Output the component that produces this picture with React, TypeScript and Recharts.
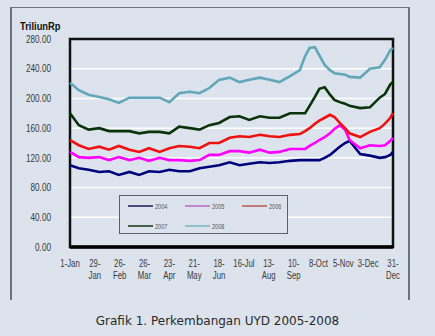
import React from "react";
import {
  LineChart,
  Line,
  XAxis,
  YAxis,
  CartesianGrid,
  ReferenceArea,
  ReferenceLine,
} from "recharts";

// day of year for each sample
const days = [
  0, 10, 21, 33, 44, 55, 67, 78, 89, 101, 112, 123, 135, 146, 157, 168, 180,
  191, 202, 214, 225, 236, 248, 259, 265, 270, 276, 281, 287, 293, 298, 304,
  310, 315, 327, 338, 349, 355, 361, 364,
];

const y2004 = [
  110, 106, 104, 101, 102, 97, 101, 97, 102, 101, 104, 102, 102, 106, 108, 110,
  114, 110, 112, 114, 113, 114, 116, 117, 117, 117, 117, 117, 120, 124, 129,
  135, 140, 143, 125, 123, 120, 121, 124, 128,
];
const y2005 = [
  128, 121, 120, 121, 117, 121, 117, 120, 116, 120, 117, 117, 116, 117, 124, 124,
  129, 129, 127, 131, 127, 128, 132, 132, 132, 136, 140, 144, 148, 153, 159,
  164, 158, 144, 133, 137, 136, 137, 143, 147,
];
const y2006 = [
  144, 137, 132, 135, 131, 136, 131, 128, 133, 128, 133, 136, 135, 133, 140, 140,
  147, 149, 148, 151, 149, 148, 151, 152, 156, 160, 166, 170, 174, 178, 175,
  167, 160, 153, 148, 155, 160, 166, 174, 180,
];
const y2007 = [
  180, 164, 158, 160, 156, 156, 156, 153, 155, 155, 153, 162, 160, 158, 164, 167,
  175, 176, 171, 176, 174, 174, 180, 180, 180, 190, 202, 213, 215, 205, 198,
  195, 193, 190, 187, 188, 201, 206, 219, 222,
];
const y2008 = [
  221, 211, 205, 202, 199, 194, 201, 201, 201, 201, 195, 207, 209, 207, 214, 225,
  228, 222, 225, 228, 225, 222, 230, 238, 257, 268, 269, 258, 245, 238, 234,
  233, 232, 229, 228, 240, 242, 252, 265, 268,
];

const tickDays = [0, 28, 56, 84, 112, 140, 168, 196, 224, 252, 280, 308, 336, 364];
const tickLabels = [
  "1-Jan", "29-\nJan", "26-\nFeb", "26-\nMar", "23-\nApr", "21-\nMay", "18-\nJun",
  "16-Jul", "13-\nAug", "10-\nSep", "8-Oct", "5-Nov", "3-Dec", "31-\nDec",
];
const yTicks = [0, 40, 80, 120, 160, 200, 240, 280];

const series = [
  { key: "s2004", name: "2004", color: "#00007a", legend: "#4a4c7c" },
  { key: "s2005", name: "2005", color: "#ff00ff", legend: "#c486c8" },
  { key: "s2006", name: "2006", color: "#f01010", legend: "#c47a7a" },
  { key: "s2007", name: "2007", color: "#0a330a", legend: "#465e4a" },
  { key: "s2008", name: "2008", color: "#62a7b8", legend: "#8cc4c8" },
];

const data = days.map((d, i) => ({
  day: d,
  s2004: y2004[i],
  s2005: y2005[i],
  s2006: y2006[i],
  s2007: y2007[i],
  s2008: y2008[i],
}));

const BG = "#dce3ed";
const FONT = "'Liberation Sans', Arial, sans-serif";
const SQUEEZE = 0.78; // labels in the original use a narrow face

function XTick(props: any) {
  const { x, y, payload } = props;
  const idx = tickDays.indexOf(payload.value);
  const lines = (tickLabels[idx] || "").split("\n");
  return (
    <g transform={`translate(${x} ${y}) scale(${SQUEEZE} 1)`}>
      <text x={0} y={0} textAnchor="middle" fill="#3a3a3a" fontSize={10} fontFamily={FONT}>
        {lines.map((l, i) => (
          <tspan key={i} x={0} dy={i === 0 ? 14 : 12}>
            {l}
          </tspan>
        ))}
      </text>
    </g>
  );
}

function YTick(props: any) {
  const { x, y, payload } = props;
  return (
    <g transform={`translate(${x} ${y}) scale(${SQUEEZE} 1)`}>
      <text x={0} y={0} dy="0.35em" textAnchor="end" fill="#3a3a3a" fontSize={10.5} fontFamily={FONT}>
        {Number(payload.value).toFixed(2)}
      </text>
    </g>
  );
}

export default function App() {
  return (
    <div
      style={{
        position: "absolute",
        left: 0,
        top: 0,
        width: 435,
        height: 336,
        background: BG,
        overflow: "hidden",
      }}
    >
      {/* outer frame */}
      <div
        style={{
          position: "absolute",
          left: 10,
          top: 7,
          width: 396,
          height: 292,
          borderTop: "1px solid #6a7480",
          borderLeft: "2px solid #6a7480",
          borderRight: "2px solid #6a7480",
        }}
      />
      <div
        style={{
          position: "absolute",
          left: 20,
          top: 20,
          fontFamily: FONT,
          fontWeight: "bold",
          fontSize: 11,
          color: "#111",
          transform: "scaleX(0.85)",
          transformOrigin: "left top",
        }}
      >
        TriliunRp
      </div>

      <div style={{ position: "absolute", left: 0, top: 0 }}>
        <LineChart
          width={435}
          height={336}
          data={data}
          margin={{ top: 39, right: 42, bottom: 59, left: 0 }}
        >
          <CartesianGrid vertical={false} stroke="#ffffff" strokeWidth={1.5} />
          <XAxis
            dataKey="day"
            type="number"
            domain={[0, 364]}
            ticks={tickDays}
            tick={<XTick />}
            tickLine={false}
            axisLine={false}
            interval={0}
            height={30}
            tickMargin={0}
          />
          <YAxis
            domain={[0, 280]}
            ticks={yTicks}
            tick={<YTick />}
            tickLine={false}
            axisLine={false}
            width={70}
            tickMargin={13}
          />
          {series.map((s) => (
            <Line
              key={s.key}
              type="linear"
              dataKey={s.key}
              name={s.name}
              stroke={s.color}
              strokeWidth={2.6}
              dot={false}
              isAnimationActive={false}
            />
          ))}
          <ReferenceArea
            x1={0}
            x2={364}
            y1={0}
            y2={280}
            fill="none"
            stroke="#111"
            strokeWidth={2.5}
            ifOverflow="visible"
          />
          <ReferenceLine y={0} stroke="#000" strokeWidth={3.5} ifOverflow="visible" />
        </LineChart>
      </div>

      {/* legend */}
      <div
        style={{
          position: "absolute",
          left: 119,
          top: 195,
          width: 167,
          height: 37,
          border: "1.5px solid #5a6068",
          background: BG,
        }}
      >
        {series.map((s, i) => {
          const col = i % 3;
          const row = Math.floor(i / 3);
          return (
            <div
              key={s.key}
              style={{
                position: "absolute",
                left: 8 + col * 57,
                top: 5 + row * 20,
                display: "flex",
                alignItems: "center",
                height: 10,
              }}
            >
              <div style={{ width: 25, height: 2, background: s.legend }} />
              <span
                style={{
                  marginLeft: 2,
                  fontSize: 7,
                  fontFamily: FONT,
                  color: "#555",
                  display: "inline-block",
                  transform: "scaleX(0.8)",
                  transformOrigin: "left center",
                }}
              >
                {s.name}
              </span>
            </div>
          );
        })}
      </div>

      <div
        style={{
          position: "absolute",
          left: 0,
          width: 435,
          top: 314,
          textAlign: "center",
          fontFamily: "'DejaVu Sans', sans-serif",
          fontSize: 12,
          color: "#2a2a2a",
        }}
      >
        Grafik 1. Perkembangan UYD 2005-2008
      </div>
    </div>
  );
}
